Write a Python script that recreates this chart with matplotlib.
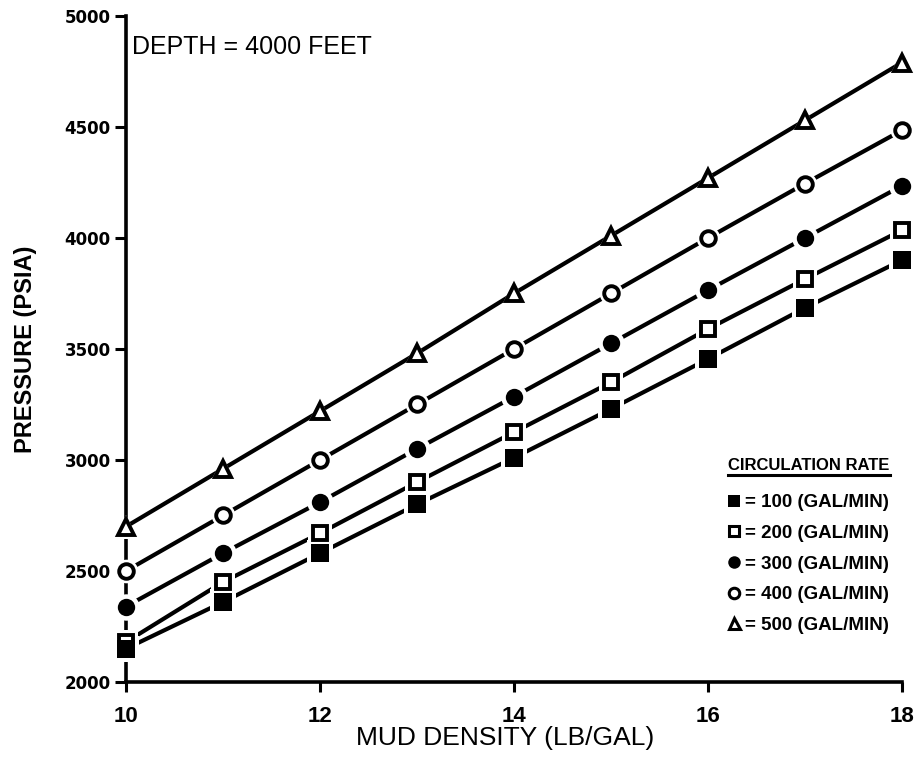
import matplotlib
import numpy as np

matplotlib.use("Agg")
import matplotlib.pyplot as plt
from matplotlib.lines import Line2D

# mud density (lb/gal) vs bottom-hole pressure (psia) at 4000 ft
density = [10, 11, 12, 13, 14, 15, 16, 17, 18]
p_100 = [2150, 2360, 2580, 2800, 3010, 3230, 3455, 3685, 3900]
p_200 = [2180, 2450, 2670, 2900, 3125, 3350, 3590, 3815, 4035]
p_300 = [2340, 2580, 2810, 3050, 3285, 3525, 3765, 4000, 4235]
p_400 = [2500, 2750, 3000, 3250, 3500, 3750, 4000, 4245, 4485]
p_500 = [2700, 2960, 3220, 3480, 3750, 4010, 4270, 4530, 4790]

rate_labels = ["100", "200", "300", "400", "500"]
x_ticks = [10, 12, 14, 16, 18]
y_ticks = [2000, 2500, 3000, 3500, 4000, 4500, 5000]

plt.rcParams["font.family"] = ["Liberation Sans", "DejaVu Sans"]

# (values, marker, filled, size)
series = [
    (p_100, "s", True, 12.5),
    (p_200, "s", False, 10.5),
    (p_300, "o", True, 12.5),
    (p_400, "o", False, 10.5),
    (p_500, "^", False, 11.0),
]

fig = plt.figure(figsize=(9.23, 7.57), dpi=100)
ax = fig.add_axes([0.1365, 0.0991, 0.8407, 0.8798])

for values, marker, filled, size in series:
    ax.plot(density, values, color="black", lw=3.0, solid_capstyle="butt", zorder=2)
    # white halo leaves a small gap between line and symbol
    ax.plot(density, values, ls="none", marker=marker, ms=size + 6.5,
            mfc="white", mec="white", mew=0, zorder=4, clip_on=False)
for order, (values, marker, filled, size) in enumerate(series):
    z = 5 if order != 1 else 4.5
    ax.plot(density, values, ls="none", marker=marker, ms=size,
            mfc="black" if filled else "white", mec="black",
            mew=0 if filled else 2.8, zorder=z, clip_on=False)

ax.set_xlim(10, 18)
ax.set_ylim(2000, 5000)
ax.set_xticks(x_ticks)
ax.set_yticks(y_ticks)
ax.set_xticklabels([str(t) for t in x_ticks], fontsize=16, fontweight="bold")
ax.set_yticklabels([str(t) for t in y_ticks], fontsize=12, fontweight="bold",
                   family="DejaVu Sans")
ax.tick_params(axis="x", direction="out", length=7, width=2.2, pad=10)
ax.tick_params(axis="y", direction="out", length=8, width=2.2, pad=3)

for side in ("top", "right"):
    ax.spines[side].set_visible(False)
for side in ("left", "bottom"):
    ax.spines[side].set_linewidth(2.6)

ax.set_xlabel("MUD DENSITY (LB/GAL)", fontsize=19)
ax.xaxis.set_label_coords(0.488, -0.066)
ax.set_ylabel("PRESSURE (PSIA)", fontsize=17, fontweight="bold")
ax.yaxis.set_label_coords(-0.115, 0.5)

ax.text(0.008, 0.953, "DEPTH = 4000 FEET", transform=ax.transAxes,
        fontsize=18, ha="left", va="center")

handles = [
    Line2D([], [], ls="none", marker=marker, ms=size * 0.72,
           mfc="black" if filled else "white", mec="black",
           mew=0 if filled else 2.2)
    for values, marker, filled, size in series
]
legend = ax.legend(
    handles, [f"= {r} (GAL/MIN)" for r in rate_labels],
    title="CIRCULATION RATE", loc="upper left",
    bbox_to_anchor=(719 / 923, 1 - 449 / 757), bbox_transform=fig.transFigure,
    frameon=False, alignment="left", handlelength=0.6, handletextpad=0.3,
    labelspacing=0.72, borderpad=0, prop={"size": 13.5, "weight": "bold"},
    title_fontproperties={"size": 12, "weight": "bold"},
)
legend._legend_box.sep = 15

# underline under the legend heading
fig.canvas.draw()
title_box = legend.get_title().get_window_extent()
inv = fig.transFigure.inverted()
(x0, y0), (x1, _) = inv.transform([(title_box.x0, title_box.y0 - 2),
                                   (title_box.x1, title_box.y0)])
fig.add_artist(Line2D([x0, x1], [y0, y0], color="black", lw=2.2,
                      transform=fig.transFigure))

fig.savefig("out.png", dpi=100)
